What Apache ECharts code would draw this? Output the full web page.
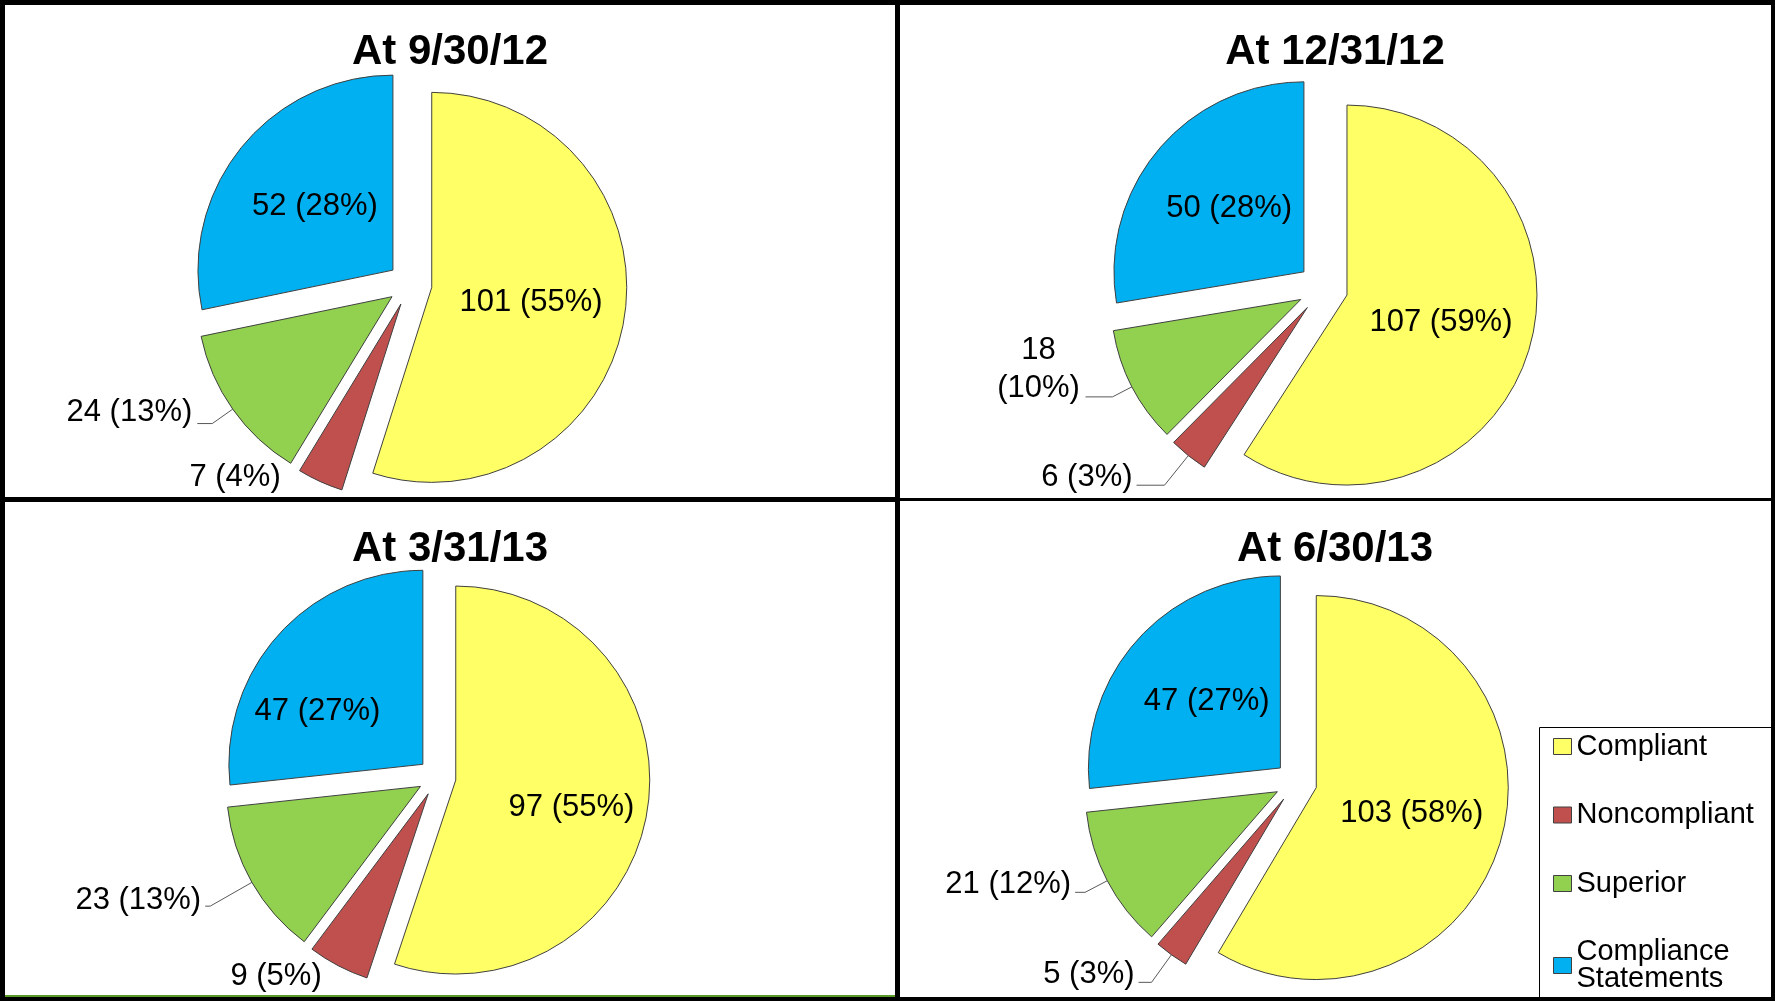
<!DOCTYPE html>
<html>
<head>
<meta charset="utf-8">
<title>Compliance status by quarter</title>
<script src="https://cdn.jsdelivr.net/npm/echarts@6/dist/echarts.min.js"></script>
<style>
  html, body { margin: 0; padding: 0; background: #fff; }
  #chart { width: 1775px; height: 1001px; }
</style>
</head>
<body>
<div id="chart"></div>
<script>
const FONT = 'Liberation Sans, Arial, sans-serif'

// categories, in the order the slices run clockwise from 12 o'clock
const categories = ['Compliant', 'Noncompliant', 'Superior', 'Compliance Statements']
const colors = ['#FFFF66', '#C0504D', '#92D050', '#00B0F0']
const periods = ['At 9/30/12', 'At 12/31/12', 'At 3/31/13', 'At 6/30/13']

// counts per category (same order as categories)
const sep2012 = [101, 7, 24, 52]
const dec2012 = [107, 6, 18, 50]
const mar2013 = [97, 9, 23, 47]
const jun2013 = [103, 5, 21, 47]
const counts = [sep2012, dec2012, mar2013, jun2013]

// panel layout: pie centre/radius, explosion, title spot, outside label tuning
const panels = [
  { cx: 410, cy: 284, r: 195, explode: 22, titleX: 450, titleY: 31,
    outside: { 1: { len: 1, len2: 34, dist: 5, pad: 10, line: false },
               2: { len: 25, len2: 15, dist: 5, pad: 22 } } },
  { cx: 1323, cy: 288, r: 190, explode: 25, titleX: 1335, titleY: 31,
    outside: { 1: { len: 38, len2: 28, dist: 4, pad: 16 },
               2: { len: 22, len2: 27, dist: 5, pad: 54, twoLine: true } } },
  { cx: 437, cy: 777, r: 194, explode: 19, titleX: 450, titleY: 528,
    outside: { 1: { len: 12, len2: 6, dist: 5, pad: 0, line: false },
               2: { len: 48, len2: 5, dist: 4, pad: 12 } },
    shift: { 0: { dx: 17, dy: 11 }, 3: { dx: -31, dy: 14 } } },
  { cx: 1296, cy: 782, r: 192, explode: 21, titleX: 1335, titleY: 528,
    outside: { 1: { len: 34, len2: 13, dist: 4, pad: 16 },
               2: { len: 25, len2: 10, dist: 4, pad: 16 } } },
]

const labelText = { fontFamily: FONT, fontSize: 31, color: '#000' }

function buildData(values, panel) {
  return values.map((v, i) => {
    const item = {
      name: categories[i],
      value: v,
      selected: true,
      itemStyle: { color: colors[i] },
    }
    const o = panel.outside[i]
    if (o) {
      // rich text so the bottom padding lifts the text above the leader line end
      item.label = {
        position: 'outside',
        distanceToLabelLine: o.dist,
        padding: [0, 0, o.pad, 0],
        formatter: o.twoLine
          ? p => `{ctr|${p.value}}\n{ctr|(${p.percent}%)}`
          : p => `{t|${p.value} (${p.percent}%)}`,
        rich: {
          t: { ...labelText },
          ctr: { ...labelText, width: 84, align: 'center', lineHeight: 38 },
        },
      }
      item.labelLine = { show: o.line !== false, length: o.len, length2: o.len2 }
    }
    return item
  })
}

const series = counts.map((values, k) => {
  const p = panels[k]
  return {
    type: 'pie',
    center: [p.cx, p.cy],
    radius: p.r,
    startAngle: 90,
    clockwise: true,
    selectedMode: 'multiple',
    selectedOffset: p.explode,
    avoidLabelOverlap: false,
    percentPrecision: 0,
    itemStyle: { borderColor: '#404040', borderWidth: 1 },
    select: { itemStyle: { borderColor: '#404040', borderWidth: 1 } },
    emphasis: { disabled: true },
    label: {
      position: 'inside',
      formatter: '{c} ({d}%)',
      ...labelText,
      textBorderWidth: 0,
    },
    labelLine: { lineStyle: { color: '#595959', width: 1 } },
    labelLayout: params => (p.shift && p.shift[params.dataIndex]) || {},
    data: buildData(values, p),
  }
})

const rule = (x, y, w, h, fill) => ({
  type: 'rect', z: 100, silent: true,
  shape: { x, y, width: w, height: h },
  style: { fill: fill || '#000' },
})

const chart = echarts.init(document.getElementById('chart'))
chart.setOption({
  animation: false,
  backgroundColor: '#fff',
  title: periods.map((t, k) => ({
    text: t,
    left: panels[k].titleX,
    top: panels[k].titleY,
    textAlign: 'center',
    padding: 0,
    textStyle: { fontFamily: FONT, fontSize: 42, fontWeight: 'bold', color: '#000' },
  })),
  legend: {
    data: categories,
    orient: 'vertical',
    left: 1539,
    top: 728,
    height: 320,
    padding: [4, 0, 0, 14],
    itemGap: 39.5,
    itemWidth: 18,
    itemHeight: 16,
    icon: 'rect',
    selectedMode: false,
    itemStyle: { borderColor: '#404040', borderWidth: 1 },
    formatter: name => name === 'Compliance Statements' ? 'Compliance\nStatements' : name,
    textStyle: { fontFamily: FONT, fontSize: 29, lineHeight: 27, color: '#000' },
  },
  graphic: [
    // legend frame
    { type: 'rect', z: 90, silent: true,
      shape: { x: 1539.5, y: 727.5, width: 240, height: 270 },
      style: { fill: 'none', stroke: '#000', lineWidth: 1 } },
    rule(0, 0, 1775, 5),
    rule(0, 0, 5, 1001),
    rule(1771, 0, 4, 1001),
    rule(5, 995, 890, 2, '#5A9A28'),
    rule(0, 997, 1775, 4),
    rule(895, 0, 5, 1001),
    rule(0, 497, 897, 5),
    rule(897, 498, 878, 3),
  ],
  series,
})
</script>
</body>
</html>
